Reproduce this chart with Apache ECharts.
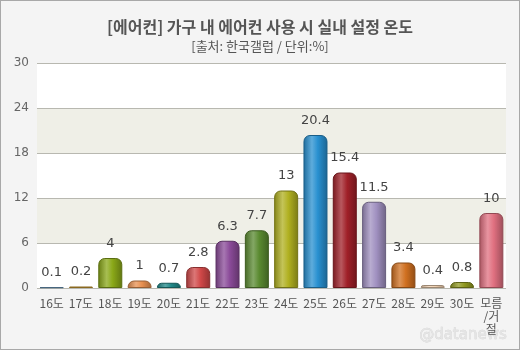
<!DOCTYPE html>
<html><head><meta charset="utf-8">
<script src="https://cdn.jsdelivr.net/npm/echarts@6/dist/echarts.min.js"></script>
<style>html,body{margin:0;padding:0;background:#f4f4f4;}#c{width:518px;height:348px;border:1px solid #a8a8a8;background:#f4f4f4;}</style>
</head><body><div id="c"></div>
<script>
const categories = ['16도','17도','18도','19도','20도','21도','22도','23도','24도','25도','26도','27도','28도','29도','30도','모름\n/거\n절'];
const values = [0.1,0.2,4,1,0.7,2.8,6.3,7.7,13,20.4,15.4,11.5,3.4,0.4,0.8,10];
const colors = ['#6a9ac0','#d4a030','#8aa818','#e89050','#208888','#d04848','#8a4a98','#5a8a30','#b0b020','#2890d0','#a02028','#a090c0','#d07020','#f0d0b0','#909820','#e07080'];
const yTicks = [0,6,12,18,24,30];

function shade(hex, f){
  const n=parseInt(hex.slice(1),16);let r=n>>16,g=(n>>8)&255,b=n&255;
  if(f>0){r=r+(255-r)*f;g=g+(255-g)*f;b=b+(255-b)*f;}else{r=r*(1+f);g=g*(1+f);b=b*(1+f);}
  return 'rgb('+Math.round(r)+','+Math.round(g)+','+Math.round(b)+')';
}
const chart = echarts.init(document.getElementById('c'));
chart.setOption({
  backgroundColor:'#f4f4f4',
  animation:false,
  title:[{text:'[에어컨] 가구 내 에어컨 사용 시 실내 설정 온도',left:'center',top:13,textStyle:{fontSize:16,fontWeight:'bold',color:'#555',fontFamily:'Noto Sans CJK KR'}},
         {text:'[출처: 한국갤럽 / 단위:%]',left:'center',top:34,textStyle:{fontSize:13,fontWeight:'normal',color:'#555',fontFamily:'Noto Sans CJK KR'}}],
  grid:{left:36,right:13,top:62,bottom:61},
  xAxis:{type:'category',data:categories,axisLine:{show:false},axisTick:{show:false},
    axisLabel:{color:'#555',fontSize:12,fontFamily:'Noto Sans CJK KR',interval:0,margin:9,lineHeight:13}},
  yAxis:{type:'value',min:0,max:30,interval:6,axisLine:{show:false},axisTick:{show:false},
    axisLabel:{color:'#666',fontSize:12,fontFamily:'DejaVu Sans',margin:8,formatter:v=>yTicks.includes(v)?String(v):''},
    splitLine:{lineStyle:{color:'#b8b8b0',width:1}},
    splitArea:{show:true,areaStyle:{color:['#ffffff','#efefe7']}}},
  series:[{type:'bar',barWidth:24,
    data:values.map((v,i)=>({value:v,itemStyle:{
      color:new echarts.graphic.LinearGradient(0,0,1,0,[{offset:0,color:shade(colors[i],-0.25)},{offset:0.35,color:shade(colors[i],0.25)},{offset:0.6,color:colors[i]},{offset:1,color:shade(colors[i],-0.3)}]),
      borderColor:shade(colors[i],-0.35),borderWidth:1,borderRadius:[6,6,0,0]}})),
    label:{show:true,position:'top',distance:8,color:'#444',fontSize:13,fontFamily:'DejaVu Sans'}}],
  graphic:[{type:'text',right:12,bottom:6,style:{text:'@datanews',fill:'#e4e4e4',stroke:'#cfcfcf',lineWidth:0.5,fontSize:15,fontFamily:'DejaVu Sans'}}]
});
</script></body></html>
